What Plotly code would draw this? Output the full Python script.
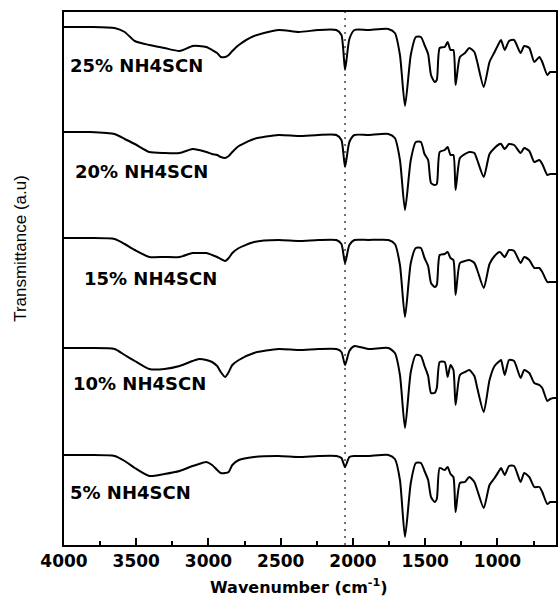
import plotly.graph_objects as go

# Wavenumber grid (cm^-1) at which the spectra were read
wavenumber = [4000, 3820, 3650, 3580, 3510, 3410, 3305, 3200, 3110, 3065, 3015, 2975,
              2940, 2915, 2885, 2860, 2835, 2790, 2685, 2515, 2375, 2240, 2115, 2080,
              2055, 2025, 1990, 1895, 1755, 1710, 1675, 1640, 1600, 1565, 1530, 1505,
              1480, 1460, 1435, 1420, 1400, 1365, 1345, 1325, 1305, 1290, 1260, 1225,
              1195, 1160, 1140, 1095, 1055, 1020, 985, 975, 950, 920, 885, 840, 815,
              780, 745, 710, 690, 655, 635, 610, 595]

# Relative transmittance (a.u.) of each sample
t25 = [100, 100, 99, 95, 86, 82, 79, 76, 81, 81, 80, 77, 74, 70, 70, 72, 76, 82, 91, 97,
       95, 97, 97, 92, 57, 88, 97, 97, 98, 94, 72, 21, 72, 90, 90, 82, 73, 52, 45, 47,
       79, 80, 85, 77, 77, 42, 70, 74, 79, 75, 65, 40, 65, 75, 85, 87, 77, 86, 87, 74,
       81, 79, 65, 70, 65, 52, 55, 55, 55]
t20 = [100, 100, 98, 93, 88, 80, 79, 79, 83, 82, 80, 78, 77, 75, 74, 76, 80, 86, 93, 97,
       96, 97, 97, 92, 65, 90, 97, 97, 98, 94, 72, 22, 72, 90, 90, 78, 72, 49, 47, 48,
       80, 82, 85, 77, 77, 42, 74, 78, 80, 79, 72, 55, 78, 84, 88, 88, 83, 88, 87, 79,
       84, 81, 70, 72, 68, 57, 58, 58, 58]
t15 = [100, 100, 99, 94, 88, 81, 81, 81, 85, 85, 85, 83, 81, 79, 77, 80, 85, 90, 96, 98,
       97, 98, 98, 94, 75, 93, 98, 98, 98, 94, 73, 21, 75, 90, 90, 80, 72, 55, 51, 53,
       83, 84, 86, 80, 78, 43, 75, 77, 78, 75, 68, 50, 74, 82, 86, 85, 81, 88, 87, 75,
       81, 78, 70, 70, 66, 56, 56, 56, 56]
t10 = [100, 100, 99, 93, 87, 79, 79, 82, 87, 89, 88, 86, 82, 76, 71, 76, 83, 88, 95, 99,
       98, 99, 99, 96, 83, 97, 102, 99, 100, 95, 73, 20, 76, 93, 92, 82, 72, 55, 55, 60,
       86, 86, 71, 83, 78, 43, 73, 76, 78, 72, 60, 36, 68, 82, 87, 88, 73, 88, 87, 70,
       78, 75, 65, 63, 60, 47, 49, 50, 50]
t5 = [100, 100, 99, 94, 87, 79, 81, 84, 89, 91, 93, 90, 85, 82, 82, 83, 90, 95, 98, 99,
      98, 99, 99, 97, 88, 98, 99, 99, 100, 96, 75, 18, 72, 92, 92, 84, 75, 58, 53, 56,
      87, 85, 88, 81, 78, 43, 72, 73, 78, 73, 65, 47, 70, 77, 85, 87, 80, 89, 89, 73,
      82, 78, 68, 68, 63, 51, 53, 53, 53]

labels = ["25% NH4SCN", "20% NH4SCN", "15% NH4SCN", "10% NH4SCN", "5% NH4SCN"]
series = [t25, t20, t15, t10, t5]
offsets = [418, 313, 207, 97, -10]          # vertical stacking offsets
label_x = [3972, 3938, 3876, 3952, 3972]
label_y = [480, 374, 267, 162, 53]
scn_band = 2055
x_ticks = [4000, 3500, 3000, 2500, 2000, 1500, 1000]

fig = go.Figure()
for name, t, off in zip(labels, series, offsets):
    fig.add_trace(go.Scatter(
        x=wavenumber, y=[v + off for v in t], mode="lines", name=name,
        line=dict(color="black", width=2, shape="spline", smoothing=0.6),
        showlegend=False, hoverinfo="skip"))

fig.add_shape(type="line", xref="x", yref="paper", x0=scn_band, x1=scn_band, y0=0, y1=1,
              line=dict(color="#444444", width=1.5, dash="2px,5px"), layer="below")

for txt, lx, ly in zip(labels, label_x, label_y):
    fig.add_annotation(x=lx, y=ly, xref="x", yref="y", text=txt, showarrow=False,
                       xanchor="left", yanchor="middle",
                       font=dict(family="DejaVu Sans", size=18, color="black", weight="bold"))

fig.add_annotation(x=0.477, y=-0.078, xref="paper", yref="paper",
                   text="Wavenumber (cm<sup>-1</sup>)", showarrow=False,
                   xanchor="center", yanchor="middle",
                   font=dict(family="DejaVu Sans", size=16, color="black", weight="bold"))
fig.add_annotation(x=-0.089, y=0.556, xref="paper", yref="paper",
                   text="Transmittance (a.u)", showarrow=False, textangle=-90,
                   xanchor="center", yanchor="middle",
                   font=dict(family="Liberation Sans Narrow, Liberation Sans, Arial", size=17, color="black"))

fig.update_layout(
    width=560, height=598,
    margin=dict(l=64, r=2, t=12, b=53),
    paper_bgcolor="white", plot_bgcolor="white",
    xaxis=dict(range=[4000, 595], tickvals=x_ticks, ticks="inside", ticklen=7, tickwidth=1.5,
               tickcolor="black", showline=True, linecolor="black", linewidth=2, mirror=True,
               showgrid=False, zeroline=False,
               minor=dict(dtick=250, tick0=0, ticks="inside", ticklen=4, tickwidth=1.5,
                          tickcolor="black", showgrid=False),
               tickfont=dict(family="DejaVu Sans", size=17, color="black", weight="bold")),
    yaxis=dict(range=[0, 533], showticklabels=False, ticks="", showline=True,
               linecolor="black", linewidth=2, mirror=True, showgrid=False, zeroline=False),
)

fig.write_html("out.html", config={"displayModeBar": False},
               post_script="document.body.style.margin='0';document.body.style.overflow='hidden';")
